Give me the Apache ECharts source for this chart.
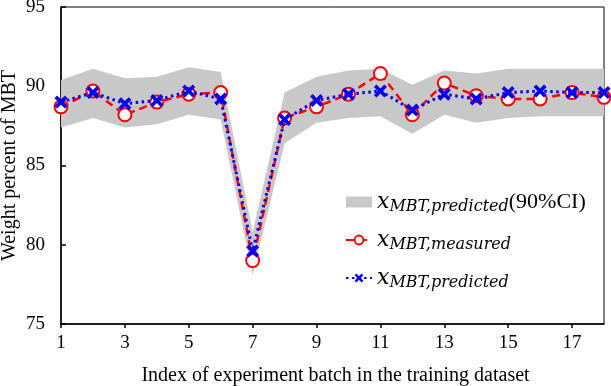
<!DOCTYPE html>
<html>
<head>
<meta charset="utf-8">
<script src="https://cdn.jsdelivr.net/npm/echarts@6/dist/echarts.min.js"></script>
<style>
html,body{margin:0;padding:0;background:#fff;}
#chart{width:611px;height:386px;}
</style>
</head>
<body>
<div id="chart"></div>
<script>
//批次编号
var batches = [1,2,3,4,5,6,7,8,9,10,11,12,13,14,15,16,17,18];
//实测值
var measured = [88.7,89.7,88.2,89.0,89.5,89.6,79.0,88.0,88.7,89.5,90.8,88.2,90.2,89.4,89.2,89.2,89.6,89.3];
//预测值
var predicted = [89.0,89.6,88.9,89.1,89.7,89.2,79.6,87.9,89.1,89.5,89.7,88.5,89.5,89.2,89.6,89.7,89.6,89.6];
//90%置信区间
var ciLower = [87.4,88.0,87.4,87.6,88.2,87.9,78.1,86.4,87.7,88.0,88.1,87.0,88.2,87.7,88.0,88.1,88.1,88.1];
var ciUpper = [90.4,91.1,90.5,90.6,91.2,90.9,80.8,89.6,90.6,91.0,91.1,90.1,91.0,90.8,91.1,91.1,91.1,91.1];

var ciWidth = [];
for (var i = 0; i < ciUpper.length; i++) {
    ciWidth.push(+(ciUpper[i] - ciLower[i]).toFixed(2));
}

var serif = "'Liberation Serif', 'Times New Roman', serif";
var mathFont = "'DejaVu Serif', serif";
var crossPath = 'path://M2,0L5,3L8,0L10,2L7,5L10,8L8,10L5,7L2,10L0,8L3,5L0,2Z';

var subs = {
    ci: 'MBT,predicted',
    measured: 'MBT,measured',
    predicted: 'MBT,predicted'
};

var myChart = echarts.init(document.getElementById('chart'));

var option = {
    backgroundColor: '#fff',
    animation: false,
    grid: {
        left: 61, right: 7, top: 7, bottom: 62,
        outerBoundsMode: 'none',
        containLabel: false,
        show: true, borderColor: '#000', borderWidth: 1
    },
    legend: {
        orient: 'vertical',
        left: 340,
        top: 186,
        itemWidth: 26,
        itemHeight: 11,
        itemGap: 14,
        data: [
            {name: 'ci', icon: 'rect', itemStyle: {color: '#c8c8c8', borderWidth: 0}},
            {name: 'measured'},
            {name: 'predicted'}
        ],
        formatter: function (name) {
            var s = '{x|x}{s|' + subs[name] + '}';
            if (name === 'ci') s += '{n|(90%CI)}';
            return s;
        },
        textStyle: {
            rich: {
                x: {fontFamily: mathFont, fontStyle: 'italic', fontSize: 22, color: '#000', lineHeight: 26, verticalAlign: 'middle'},
                s: {fontFamily: mathFont, fontStyle: 'italic', fontSize: 16, color: '#000', lineHeight: 16, verticalAlign: 'bottom'},
                n: {fontFamily: serif, fontSize: 22, color: '#000', lineHeight: 26, verticalAlign: 'middle'}
            }
        }
    },
    xAxis: {
        type: 'category',
        data: batches,
        boundaryGap: false,
        name: 'Index of experiment batch in the training dataset',
        nameLocation: 'middle',
        nameGap: 42,
        nameMoveOverlap: false,
        nameTextStyle: {fontFamily: serif, fontSize: 20, color: '#000', padding: [0, 0, 0, 6]},
        axisLine: {lineStyle: {color: '#000', width: 1.5}},
        axisTick: {show: true, interval: 1, inside: false, length: 4, lineStyle: {color: '#000', width: 1.5}},
        axisLabel: {interval: 1, fontFamily: serif, fontSize: 19, color: '#000', margin: 10},
        splitLine: {show: false}
    },
    yAxis: {
        type: 'value',
        min: 75,
        max: 95,
        interval: 5,
        name: 'Weight percent of MBT',
        nameLocation: 'middle',
        nameGap: 41,
        nameMoveOverlap: false,
        nameTextStyle: {fontFamily: serif, fontSize: 20, color: '#000'},
        axisLine: {show: true, lineStyle: {color: '#000', width: 1.5}},
        axisTick: {show: true, inside: true, length: 5, lineStyle: {color: '#000', width: 1.5}},
        axisLabel: {fontFamily: serif, fontSize: 19, color: '#000', margin: 16},
        splitLine: {show: false}
    },
    series: [
        {
            name: 'ciLow',
            type: 'line',
            stack: 'ci',
            data: ciLower,
            symbol: 'none',
            lineStyle: {opacity: 0},
            silent: true
        },
        {
            name: 'ci',
            type: 'line',
            stack: 'ci',
            data: ciWidth,
            symbol: 'none',
            lineStyle: {opacity: 0},
            itemStyle: {color: '#c8c8c8'},
            areaStyle: {color: '#c8c8c8', opacity: 1},
            silent: true
        },
        {
            name: 'measured',
            type: 'line',
            data: measured,
            symbol: 'circle',
            symbolSize: 13,
            itemStyle: {color: '#fff', borderColor: '#f00', borderWidth: 2},
            lineStyle: {color: '#f00', width: 2.5, type: [8, 5]},
            z: 3
        },
        {
            name: 'predicted',
            type: 'line',
            data: predicted,
            symbol: crossPath,
            symbolSize: 13,
            itemStyle: {color: '#0000ee'},
            lineStyle: {color: '#0000ee', width: 3, type: [2.5, 3.5]},
            z: 4
        }
    ]
};

myChart.setOption(option);
</script>
</body>
</html>
